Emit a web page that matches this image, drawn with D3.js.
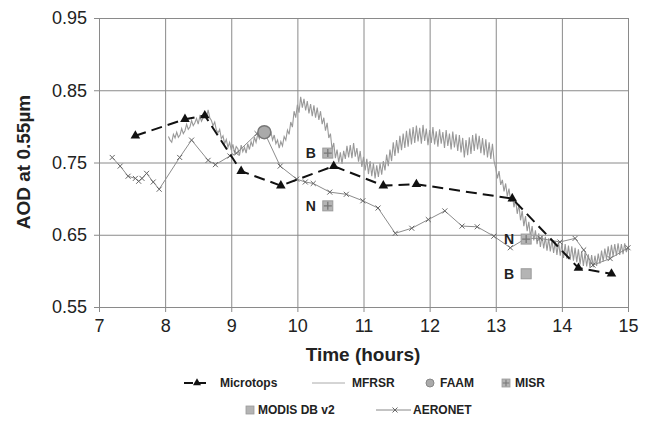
<!DOCTYPE html>
<html>
<head>
<meta charset="utf-8">
<script src="https://cdn.jsdelivr.net/npm/d3@7"></script>
<style>
  body { margin: 0; background: #fff; }
  text { font-family: "Liberation Sans", Arial, sans-serif; }
</style>
</head>
<body>
<svg id="chart" width="646" height="423"></svg>
<script>
// ---- data ----
let xTicks = [7, 8, 9, 10, 11, 12, 13, 14, 15];
let yTicks = [0.55, 0.65, 0.75, 0.85, 0.95];

let microtopsTime = [7.55, 8.3, 8.6, 9.15, 9.75, 10.55, 11.3, 11.8, 13.25, 14.25, 14.75];
let microtopsAOD  = [0.787, 0.81, 0.815, 0.738, 0.718, 0.745, 0.718, 0.72, 0.70, 0.604, 0.596];

let aeronetTime = [7.2, 7.32, 7.44, 7.55, 7.6, 7.65, 7.72, 7.82, 7.91, 8.22, 8.4, 8.65, 8.76, 8.98,
                   9.08, 9.39, 9.5, 9.74, 9.99, 10.12, 10.24, 10.49, 10.74, 10.99, 11.22, 11.48, 11.73,
                   11.98, 12.23, 12.49, 12.72, 12.97, 13.22, 13.46, 13.67, 13.97, 14.2, 14.33, 14.47,
                   14.73, 15.0];
let aeronetAOD  = [0.757, 0.745, 0.731, 0.728, 0.724, 0.728, 0.735, 0.723, 0.713, 0.757, 0.781, 0.753,
                   0.747, 0.759, 0.763, 0.79, 0.792, 0.745, 0.727, 0.723, 0.721, 0.709, 0.706, 0.697,
                   0.687, 0.652, 0.659, 0.671, 0.683, 0.662, 0.661, 0.648, 0.632, 0.645, 0.645, 0.64,
                   0.645, 0.629, 0.608, 0.617, 0.632];

// MFRSR: [time, AOD], noisy 1-minute-ish record
let mfrsr = [
  [8.050,.786],[8.075,.781],[8.100,.778],[8.125,.789],[8.150,.784],[8.175,.792],[8.200,.785],[8.225,.788],
  [8.250,.797],[8.275,.790],[8.300,.794],[8.325,.803],[8.350,.796],[8.375,.799],[8.400,.808],[8.425,.801],
  [8.450,.805],[8.475,.811],[8.500,.803],[8.525,.814],[8.550,.807],[8.575,.812],[8.600,.819],[8.625,.811],
  [8.650,.823],[8.675,.812],[8.700,.808],[8.725,.801],[8.750,.806],[8.775,.795],[8.800,.791],[8.825,.796],
  [8.850,.783],[8.875,.787],[8.900,.776],[8.925,.782],[8.950,.771],[8.975,.778],[9.000,.767],[9.025,.775],
  [9.050,.763],[9.075,.772],[9.100,.769],[9.125,.760],[9.150,.774],[9.175,.765],[9.200,.771],[9.225,.763],
  [9.250,.776],[9.275,.768],[9.300,.779],[9.325,.772],[9.350,.785],[9.375,.778],[9.400,.789],[9.425,.783],
  [9.450,.794],[9.475,.786],[9.500,.797],[9.525,.789],[9.550,.798],[9.575,.788],[9.600,.792],[9.625,.781],
  [9.650,.788],[9.675,.776],[9.700,.781],[9.725,.770],[9.750,.779],[9.775,.773],[9.800,.786],[9.825,.781],
  [9.850,.795],[9.875,.789],[9.900,.806],[9.925,.799],[9.950,.821],[9.975,.812],[10.000,.830],[10.025,.819],
  [10.050,.841],[10.075,.826],[10.100,.838],[10.125,.822],[10.150,.835],[10.175,.818],[10.200,.831],[10.225,.814],
  [10.250,.829],[10.275,.812],[10.300,.826],[10.325,.809],[10.350,.821],[10.375,.803],[10.400,.812],[10.425,.794],
  [10.450,.805],[10.475,.784],[10.500,.790],[10.525,.768],[10.550,.777],[10.575,.756],[10.600,.768],[10.625,.750],
  [10.650,.764],[10.675,.748],[10.700,.766],[10.725,.755],[10.750,.773],[10.775,.757],[10.800,.774],[10.825,.756],
  [10.850,.777],[10.875,.758],[10.900,.770],[10.925,.751],[10.950,.766],[10.975,.744],[11.000,.758],[11.025,.739],
  [11.050,.755],[11.075,.734],[11.100,.752],[11.125,.731],[11.150,.749],[11.175,.728],[11.200,.746],[11.225,.730],
  [11.250,.749],[11.275,.733],[11.300,.752],[11.325,.739],[11.350,.761],[11.375,.745],[11.400,.768],[11.425,.752],
  [11.450,.778],[11.475,.759],[11.500,.781],[11.525,.763],[11.550,.787],[11.575,.767],[11.600,.790],[11.625,.770],
  [11.650,.794],[11.675,.772],[11.700,.797],[11.725,.775],[11.750,.799],[11.775,.777],[11.800,.801],[11.825,.779],
  [11.850,.798],[11.875,.776],[11.900,.802],[11.925,.780],[11.950,.797],[11.975,.774],[12.000,.795],[12.025,.777],
  [12.050,.799],[12.075,.775],[12.100,.793],[12.125,.772],[12.150,.796],[12.175,.776],[12.200,.792],[12.225,.770],
  [12.250,.795],[12.275,.773],[12.300,.790],[12.325,.768],[12.350,.793],[12.375,.771],[12.400,.789],[12.425,.766],
  [12.450,.788],[12.475,.764],[12.500,.784],[12.525,.757],[12.550,.781],[12.575,.760],[12.600,.785],[12.625,.762],
  [12.650,.788],[12.675,.766],[12.700,.790],[12.725,.768],[12.750,.787],[12.775,.763],[12.800,.784],[12.825,.760],
  [12.850,.782],[12.875,.757],[12.900,.778],[12.925,.755],[12.950,.776],[12.975,.752],[13.000,.742],[13.025,.728],
  [13.050,.738],[13.075,.719],[13.100,.726],[13.125,.710],[13.150,.721],[13.175,.703],[13.200,.714],[13.225,.696],
  [13.250,.707],[13.275,.688],[13.300,.699],[13.325,.679],[13.350,.692],[13.375,.670],[13.400,.683],[13.425,.662],
  [13.450,.676],[13.475,.655],[13.500,.668],[13.525,.647],[13.550,.662],[13.575,.642],[13.600,.656],[13.625,.637],
  [13.650,.652],[13.675,.633],[13.700,.649],[13.725,.631],[13.750,.647],[13.775,.628],[13.800,.645],[13.825,.627],
  [13.850,.643],[13.875,.625],[13.900,.641],[13.925,.622],[13.950,.640],[13.975,.621],[14.000,.638],[14.025,.618],
  [14.050,.637],[14.075,.617],[14.100,.635],[14.125,.615],[14.150,.634],[14.175,.614],[14.200,.632],[14.225,.612],
  [14.250,.630],[14.275,.609],[14.300,.627],[14.325,.607],[14.350,.625],[14.375,.606],[14.400,.623],[14.425,.604],
  [14.450,.622],[14.475,.605],[14.500,.621],[14.525,.607],[14.550,.624],[14.575,.610],[14.600,.628],[14.625,.613],
  [14.650,.631],[14.675,.616],[14.700,.634],[14.725,.618],[14.750,.636],[14.775,.620],[14.800,.637],[14.825,.621],
  [14.850,.638],[14.875,.622],[14.900,.637],[14.925,.623],[14.950,.638],[14.975,.626],[15.000,.633]
];

let faam = [[9.5, 0.792]];
let misr = [[10.46, 0.763, "B"], [10.46, 0.690, "N"], [13.46, 0.644, "N"]];
let modis = [[13.46, 0.596, "B"]];

// ---- layout ----
let svg = d3.select("#chart");
svg.append("rect").attr("width", 646).attr("height", 423).attr("fill", "#fff");

let plotLeft = 99, plotRight = 628, plotTop = 18, plotBottom = 307;
let xScale = d3.scaleLinear().domain([7, 15]).range([plotLeft, plotRight]);
let yScale = d3.scaleLinear().domain([0.55, 0.95]).range([plotBottom, plotTop]);
let gridColor = "#8a8a8a";

// grid
svg.append("g")
   .attr("transform", "translate(0," + plotBottom + ")")
   .call(d3.axisBottom(xScale).tickValues(xTicks).tickSize(-(plotBottom - plotTop)).tickFormat(""))
   .call(g => g.select(".domain").remove())
   .selectAll("line").attr("stroke", gridColor);
svg.append("g")
   .attr("transform", "translate(" + plotLeft + ",0)")
   .call(d3.axisLeft(yScale).tickValues(yTicks).tickSize(-(plotRight - plotLeft)).tickFormat(""))
   .call(g => g.select(".domain").remove())
   .selectAll("line").attr("stroke", gridColor);

// axes
let xAxis = svg.append("g")
   .attr("transform", "translate(0," + plotBottom + ")")
   .call(d3.axisBottom(xScale).tickValues(xTicks).tickSize(5).tickSizeOuter(0).tickPadding(7));
let yAxis = svg.append("g")
   .attr("transform", "translate(" + plotLeft + ",0)")
   .call(d3.axisLeft(yScale).tickValues(yTicks).tickFormat(d3.format(".2f")).tickSize(5).tickSizeOuter(0).tickPadding(7));
[xAxis, yAxis].forEach(a => {
  a.select(".domain").attr("stroke", gridColor);
  a.selectAll("line").attr("stroke", gridColor);
  a.selectAll("text").attr("fill", "#222").style("font-size", "18px")
   .style("font-family", "'Liberation Sans', Arial, sans-serif");
});

// axis titles
svg.append("text")
   .attr("transform", "translate(30,162) rotate(-90)")
   .attr("text-anchor", "middle")
   .style("font-size", "19px").style("font-weight", "bold").attr("fill", "#222")
   .text("AOD at 0.55µm");
svg.append("text")
   .attr("x", 363).attr("y", 361)
   .attr("text-anchor", "middle")
   .style("font-size", "19px").style("font-weight", "bold").attr("fill", "#222")
   .text("Time (hours)");

let line = d3.line().x(d => xScale(d[0])).y(d => yScale(d[1]));

// MFRSR
svg.append("path")
   .datum(mfrsr)
   .attr("d", line)
   .attr("fill", "none").attr("stroke", "#999").attr("stroke-width", 1.1);

// AERONET
let aeronet = aeronetTime.map((t, i) => [t, aeronetAOD[i]]);
svg.append("path")
   .datum(aeronet)
   .attr("d", line)
   .attr("fill", "none").attr("stroke", "#8c8c8c").attr("stroke-width", 1);
let timesSym = d3.symbol().type(d3.symbolTimes).size(18);
svg.append("g").selectAll("path")
   .data(aeronet).enter().append("path")
   .attr("transform", d => "translate(" + xScale(d[0]) + "," + yScale(d[1]) + ")")
   .attr("d", timesSym)
   .attr("fill", "none").attr("stroke", "#666").attr("stroke-width", 1);

// Microtops
let microtops = microtopsTime.map((t, i) => [t, microtopsAOD[i]]);
svg.append("path")
   .datum(microtops)
   .attr("d", line)
   .attr("fill", "none").attr("stroke", "#111").attr("stroke-width", 2)
   .attr("stroke-dasharray", "11,6");
let triSym = d3.symbol().type(d3.symbolTriangle).size(40);
svg.append("g").selectAll("path")
   .data(microtops).enter().append("path")
   .attr("transform", d => "translate(" + xScale(d[0]) + "," + yScale(d[1]) + ")")
   .attr("d", triSym)
   .attr("fill", "#111");

// FAAM
svg.append("g").selectAll("circle")
   .data(faam).enter().append("circle")
   .attr("cx", d => xScale(d[0])).attr("cy", d => yScale(d[1])).attr("r", 6.5)
   .attr("fill", "#aaa").attr("stroke", "#777").attr("stroke-width", 1.5);

// MISR / MODIS markers with B/N labels
function drawSquare(g, cross) {
  g.append("rect").attr("x", -5).attr("y", -5).attr("width", 10).attr("height", 10)
   .attr("fill", "#b4b4b4").attr("stroke", "#9a9a9a");
  if (cross) {
    g.append("path").attr("d", "M-4,0H4M0,-4V4").attr("stroke", "#777").attr("stroke-width", 1.3);
  }
}
let pts = misr.map(d => d.concat([true])).concat(modis.map(d => d.concat([false])));
pts.forEach(d => {
  let g = svg.append("g").attr("transform", "translate(" + xScale(d[0]) + "," + yScale(d[1]) + ")");
  drawSquare(g, d[3]);
  g.append("text").attr("x", -12).attr("y", 5).attr("text-anchor", "end")
   .style("font-size", "14px").style("font-weight", "bold").attr("fill", "#222")
   .text(d[2]);
});

// legend
let legend = svg.append("g").style("font-size", "12px").style("font-weight", "bold");
function legendText(x, y, s) {
  legend.append("text").attr("x", x).attr("y", y + 4).attr("fill", "#222").text(s);
}
let r1 = 383, r2 = 410;
legend.append("line").attr("x1", 184).attr("x2", 210).attr("y1", r1).attr("y2", r1)
      .attr("stroke", "#111").attr("stroke-width", 2).attr("stroke-dasharray", "9,4");
legend.append("path").attr("transform", "translate(197," + r1 + ")").attr("d", d3.symbol().type(d3.symbolTriangle).size(28)).attr("fill", "#111");
legendText(220, r1, "Microtops");
legend.append("line").attr("x1", 312).attr("x2", 345).attr("y1", r1).attr("y2", r1)
      .attr("stroke", "#aaa").attr("stroke-width", 1);
legendText(352, r1, "MFRSR");
legend.append("circle").attr("cx", 430).attr("cy", r1).attr("r", 4).attr("fill", "#aaa").attr("stroke", "#888");
legendText(440, r1, "FAAM");
drawSquare(legend.append("g").attr("transform", "translate(506," + r1 + ") scale(0.8)"), true);
legendText(515, r1, "MISR");
drawSquare(legend.append("g").attr("transform", "translate(250," + r2 + ") scale(0.8)"), false);
legendText(258, r2, "MODIS DB v2");
legend.append("line").attr("x1", 376).attr("x2", 411).attr("y1", r2).attr("y2", r2)
      .attr("stroke", "#888").attr("stroke-width", 1);
legend.append("path").attr("transform", "translate(395," + r2 + ")").attr("d", timesSym).attr("fill", "none").attr("stroke", "#666");
legendText(413, r2, "AERONET");
</script>
</body>
</html>
